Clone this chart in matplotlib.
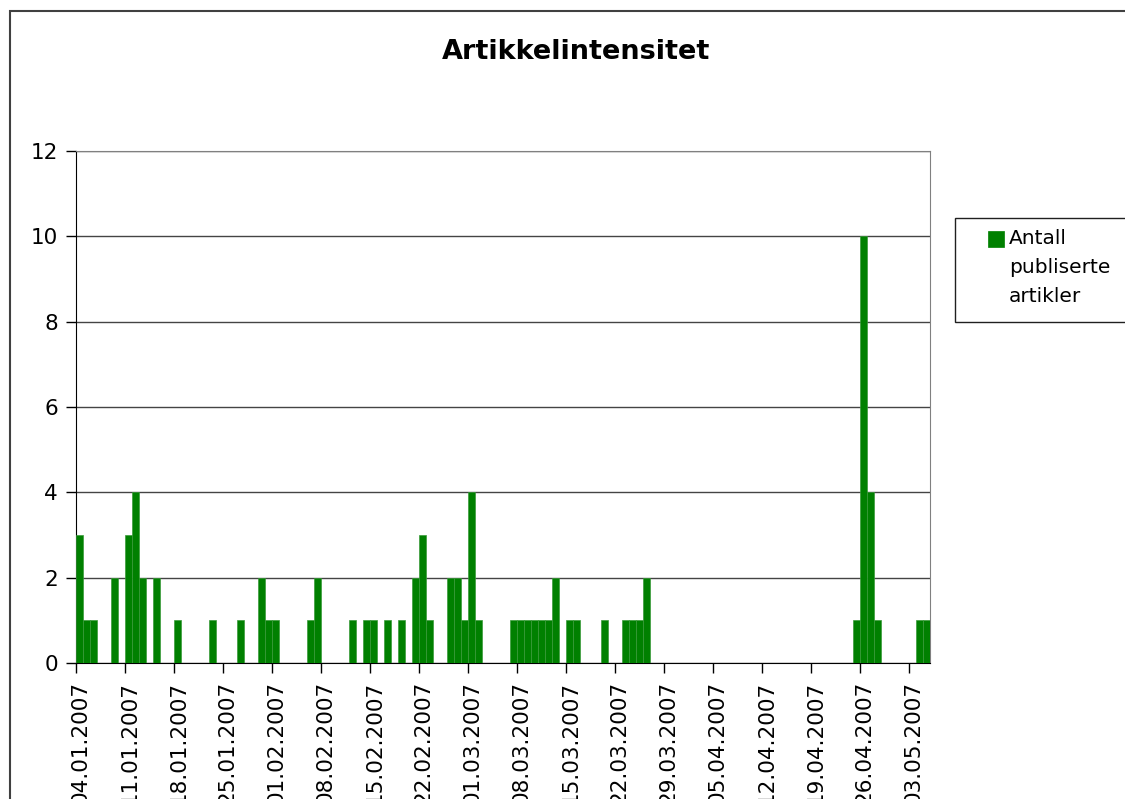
"""Artikkelintensitet - antall publiserte artikler per dag."""
import matplotlib
matplotlib.use("Agg")
import matplotlib.pyplot as plt
import matplotlib.dates as mdates
from matplotlib.patches import Rectangle
from matplotlib.ticker import FixedLocator, NullFormatter
import pandas as pd

plt.rcParams["font.family"] = ["DejaVu Sans"]

DATES = [
    "04.01.2007", "05.01.2007", "06.01.2007", "09.01.2007", "11.01.2007",
    "12.01.2007", "13.01.2007", "15.01.2007", "18.01.2007", "23.01.2007",
    "27.01.2007", "30.01.2007", "31.01.2007", "01.02.2007", "06.02.2007",
    "07.02.2007", "12.02.2007", "14.02.2007", "15.02.2007", "17.02.2007",
    "19.02.2007", "21.02.2007", "22.02.2007", "23.02.2007", "26.02.2007",
    "27.02.2007", "28.02.2007", "01.03.2007", "02.03.2007", "07.03.2007",
    "08.03.2007", "09.03.2007", "10.03.2007", "11.03.2007", "12.03.2007",
    "13.03.2007", "15.03.2007", "16.03.2007", "20.03.2007", "23.03.2007",
    "24.03.2007", "25.03.2007", "26.03.2007", "25.04.2007", "26.04.2007",
    "27.04.2007", "28.04.2007", "04.05.2007", "05.05.2007",
]
COUNTS = [
    3, 1, 1, 2, 3,
    4, 2, 2, 1, 1,
    1, 2, 1, 1, 1,
    2, 1, 1, 1, 1,
    1, 2, 3, 1, 2,
    2, 1, 4, 1, 1,
    1, 1, 1, 1, 1,
    2, 1, 1, 1, 1,
    1, 1, 2, 1, 10,
    4, 1, 1, 1,
]
TICK_LABELS = [
    "04.01.2007", "11.01.2007", "18.01.2007", "25.01.2007", "01.02.2007",
    "08.02.2007", "15.02.2007", "22.02.2007", "01.03.2007", "08.03.2007",
    "15.03.2007", "22.03.2007", "29.03.2007", "05.04.2007", "12.04.2007",
    "19.04.2007", "26.04.2007", "03.05.2007",
]
X_START, X_END = "04.01.2007", "06.05.2007"
SERIES = "Antall\npubliserte\nartikler"
GREEN = "#008000"

W, H = 1125, 799


def fx(px):
    return px / W


def fy(py):
    return 1 - py / H


def main() -> None:
    dates = pd.to_datetime(DATES, format="%d.%m.%Y")
    ticks = pd.to_datetime(TICK_LABELS, format="%d.%m.%Y")
    x0 = mdates.date2num(pd.to_datetime(X_START, format="%d.%m.%Y"))
    x1 = mdates.date2num(pd.to_datetime(X_END, format="%d.%m.%Y"))
    xd = mdates.date2num(dates)
    xt = mdates.date2num(ticks)

    fig = plt.figure(figsize=(W / 100, H / 100), dpi=100)
    # outer chart border
    fig.patches.append(Rectangle((fx(10), -0.1), 1.2, fy(11) + 0.1,
                                 transform=fig.transFigure, fill=False,
                                 edgecolor="#404040", lw=1.5))

    ax = fig.add_axes([fx(76), fy(663), fx(930) - fx(76), fy(151) - fy(663)])
    ax.bar(xd, COUNTS, width=0.95, align="edge", color=GREEN,
           edgecolor="#3a9a3a", linewidth=0.5, zorder=3)

    ax.set_xlim(x0, x1)
    ax.set_ylim(0, 12)
    ax.set_yticks(range(0, 13, 2))
    ax.yaxis.grid(True, color="#444444", lw=1, zorder=0)
    ax.tick_params(axis="y", direction="out", length=7, width=1,
                   labelsize=15.5, pad=6)

    ax.xaxis.set_major_locator(FixedLocator(xt))
    ax.xaxis.set_major_formatter(NullFormatter())
    ax.xaxis.set_minor_locator(FixedLocator(xt + 0.6))
    ax.set_xticklabels(TICK_LABELS, minor=True, rotation=90)
    ax.tick_params(axis="x", which="major", direction="out", length=7, width=1)
    ax.tick_params(axis="x", which="minor", length=0, labelsize=15.5, pad=13)
    for lbl in ax.get_xticklabels(minor=True):
        lbl.set_verticalalignment("top")

    for side in ("top", "right"):
        ax.spines[side].set_color("#808080")
    for side in ("left", "bottom"):
        ax.spines[side].set_color("black")

    fig.text(fx(576), fy(52), "Artikkelintensitet", ha="center", va="center",
             fontsize=19.5, fontweight="bold")

    # legend box
    fig.patches.append(Rectangle((fx(955), fy(322)), fx(1200) - fx(955),
                                 fy(218) - fy(322), transform=fig.transFigure,
                                 facecolor="white", edgecolor="#202020", lw=1))
    fig.patches.append(Rectangle((fx(988), fy(247)), fx(16), 16 / H,
                                 transform=fig.transFigure, facecolor=GREEN,
                                 edgecolor=GREEN, lw=0.5))
    fig.text(fx(1009), fy(229), SERIES, ha="left", va="top", fontsize=14.5,
             linespacing=1.65)

    fig.savefig("out.png", dpi=100)
    plt.close(fig)


if __name__ == "__main__":
    main()
